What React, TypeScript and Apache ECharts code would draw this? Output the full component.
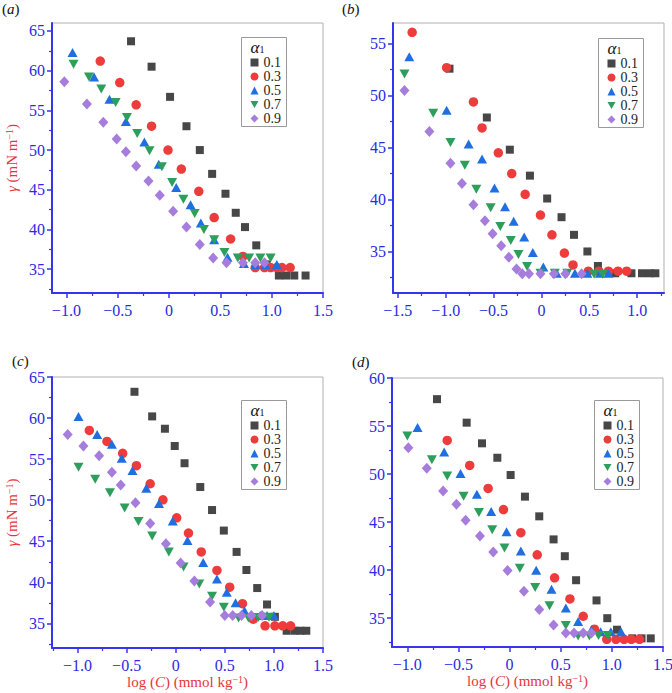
import React, { useEffect, useRef } from 'react';
import * as echarts from 'echarts';

type Pt = [number, number];

const SERIES_NAMES = ['0.1', '0.3', '0.5', '0.7', '0.9'];

// Panel (a)
const a01: Pt[] = [[-0.37, 63.7], [-0.17, 60.5], [0.01, 56.7], [0.17, 53.0], [0.30, 50.0], [0.42, 47.0], [0.55, 44.5], [0.65, 42.1], [0.74, 40.3], [0.85, 38.0], [0.95, 35.6], [1.07, 34.2], [1.14, 34.2], [1.22, 34.2], [1.33, 34.2]];
const a03: Pt[] = [[-0.67, 61.2], [-0.48, 58.5], [-0.32, 55.7], [-0.17, 53.0], [-0.01, 50.0], [0.12, 47.6], [0.29, 44.8], [0.44, 41.5], [0.60, 38.8], [0.72, 36.6], [0.84, 35.2], [0.93, 35.2], [0.99, 35.2], [1.05, 35.2], [1.10, 35.2], [1.18, 35.2]];
const a05: Pt[] = [[-0.94, 62.3], [-0.73, 59.2], [-0.58, 56.4], [-0.42, 53.6], [-0.24, 51.0], [-0.10, 48.2], [0.07, 45.3], [0.21, 43.1], [0.31, 40.8], [0.44, 38.7], [0.57, 36.5], [0.73, 35.7], [0.84, 35.6], [0.94, 35.6], [1.05, 35.6]];
const a07: Pt[] = [[-0.93, 60.8], [-0.78, 59.2], [-0.66, 57.7], [-0.52, 56.0], [-0.41, 54.1], [-0.31, 52.1], [-0.19, 49.9], [-0.07, 47.9], [0.03, 45.9], [0.14, 43.8], [0.25, 42.0], [0.34, 40.0], [0.44, 38.7], [0.54, 37.1], [0.67, 36.4], [0.78, 36.4], [0.89, 36.4], [0.99, 36.4]];
const a09: Pt[] = [[-1.02, 58.6], [-0.80, 55.8], [-0.64, 53.5], [-0.51, 51.4], [-0.42, 49.8], [-0.32, 48.0], [-0.20, 46.1], [-0.09, 44.3], [0.04, 42.3], [0.17, 40.3], [0.30, 38.1], [0.43, 36.4], [0.56, 35.8], [0.72, 35.8], [0.84, 35.8], [0.93, 35.8]];

// Panel (b)
const b01: Pt[] = [[-0.96, 52.6], [-0.57, 47.9], [-0.33, 44.8], [-0.12, 42.3], [0.06, 40.1], [0.21, 38.3], [0.34, 36.6], [0.48, 35.0], [0.59, 33.6], [0.77, 32.9], [0.94, 32.9], [1.05, 32.9], [1.13, 32.9], [1.19, 32.9]];
const b03: Pt[] = [[-1.35, 56.1], [-0.99, 52.7], [-0.71, 49.4], [-0.62, 46.9], [-0.45, 44.5], [-0.31, 42.5], [-0.17, 40.5], [-0.01, 38.5], [0.11, 36.6], [0.24, 34.85], [0.33, 33.7], [0.49, 33.1], [0.60, 33.1], [0.70, 33.1], [0.80, 33.1], [0.89, 33.1]];
const b05: Pt[] = [[-1.38, 53.75], [-0.99, 48.6], [-0.76, 45.35], [-0.62, 43.9], [-0.49, 41.1], [-0.38, 39.3], [-0.29, 37.9], [-0.18, 36.4], [-0.09, 34.9], [0.02, 33.5], [0.16, 32.9], [0.35, 32.9], [0.48, 32.9], [0.61, 32.9], [0.70, 32.9]];
const b07: Pt[] = [[-1.43, 52.1], [-1.13, 48.3], [-0.95, 45.5], [-0.80, 43.3], [-0.68, 41.0], [-0.53, 39.2], [-0.43, 37.4], [-0.32, 36.05], [-0.24, 34.7], [-0.15, 33.55], [-0.01, 32.9], [0.14, 32.9], [0.27, 32.9], [0.55, 32.8], [0.64, 32.8]];
const b09: Pt[] = [[-1.43, 50.5], [-1.17, 46.55], [-0.95, 43.5], [-0.83, 41.55], [-0.71, 39.5], [-0.59, 37.95], [-0.51, 36.7], [-0.42, 35.55], [-0.34, 34.45], [-0.26, 33.3], [-0.20, 32.85], [-0.13, 32.85], [-0.01, 32.85], [0.13, 32.85], [0.25, 32.85], [0.42, 32.85]];

// Panel (c)
const c01: Pt[] = [[-0.42, 63.2], [-0.24, 60.2], [-0.11, 58.7], [-0.01, 56.6], [0.09, 54.5], [0.25, 51.6], [0.37, 48.8], [0.49, 46.3], [0.62, 43.7], [0.72, 41.5], [0.83, 39.3], [0.93, 37.3], [1.01, 35.8], [1.13, 34.1], [1.21, 34.1], [1.27, 34.1], [1.33, 34.1]];
const c03: Pt[] = [[-0.88, 58.5], [-0.70, 57.15], [-0.54, 55.7], [-0.40, 54.2], [-0.26, 52.0], [-0.13, 50.05], [0.01, 47.85], [0.13, 46.0], [0.26, 43.7], [0.42, 41.45], [0.55, 39.4], [0.68, 37.4], [0.79, 35.5], [0.91, 34.7], [1.01, 34.7], [1.09, 34.7], [1.17, 34.7]];
const c05: Pt[] = [[-0.99, 60.2], [-0.80, 58.0], [-0.65, 56.8], [-0.55, 55.1], [-0.44, 53.6], [-0.30, 51.45], [-0.17, 49.6], [-0.03, 47.45], [0.12, 45.1], [0.28, 42.4], [0.42, 40.4], [0.52, 38.8], [0.61, 37.5], [0.70, 36.55], [0.86, 35.95], [0.93, 35.95], [1.00, 35.95]];
const c07: Pt[] = [[-0.99, 54.0], [-0.82, 52.55], [-0.67, 50.9], [-0.52, 49.05], [-0.38, 47.4], [-0.24, 45.65], [-0.07, 43.7], [0.08, 41.85], [0.24, 39.8], [0.37, 38.3], [0.49, 36.95], [0.64, 35.65], [0.74, 35.65], [0.84, 35.7], [0.95, 35.75]];
const c09: Pt[] = [[-1.10, 58.0], [-0.94, 56.6], [-0.78, 55.4], [-0.65, 53.4], [-0.56, 51.85], [-0.41, 49.7], [-0.26, 47.15], [-0.10, 44.7], [0.05, 42.35], [0.19, 40.15], [0.35, 37.6], [0.50, 35.95], [0.58, 35.95], [0.67, 35.95], [0.77, 35.95], [0.88, 35.95]];

// Panel (d)
const d01: Pt[] = [[-0.71, 57.8], [-0.42, 55.35], [-0.27, 53.2], [-0.12, 51.7], [0.01, 49.9], [0.15, 47.65], [0.29, 45.6], [0.43, 43.2], [0.54, 41.45], [0.65, 38.95], [0.85, 36.85], [0.955, 35.0], [1.05, 33.8], [1.20, 32.9], [1.29, 32.9], [1.38, 32.9]];
const d03: Pt[] = [[-0.61, 53.5], [-0.39, 50.9], [-0.21, 48.5], [-0.06, 46.3], [0.11, 43.9], [0.27, 41.6], [0.44, 39.2], [0.59, 37.0], [0.72, 35.2], [0.83, 33.85], [0.95, 32.8], [1.04, 32.8], [1.12, 32.8], [1.19, 32.8], [1.27, 32.8]];
const d05: Pt[] = [[-0.90, 54.85], [-0.64, 52.3], [-0.48, 50.05], [-0.32, 47.9], [-0.18, 46.1], [-0.03, 44.0], [0.11, 42.0], [0.26, 40.0], [0.41, 38.0], [0.55, 36.05], [0.67, 34.65], [0.80, 33.8], [0.89, 33.6], [0.99, 33.6], [1.09, 33.6]];
const d07: Pt[] = [[-1.0, 53.95], [-0.76, 51.5], [-0.61, 49.8], [-0.45, 47.7], [-0.30, 46.0], [-0.17, 44.2], [-0.05, 42.3], [0.10, 40.2], [0.25, 38.2], [0.39, 36.3], [0.55, 34.25], [0.67, 33.15], [0.78, 33.15], [0.87, 33.2], [0.96, 33.2]];
const d09: Pt[] = [[-0.99, 52.75], [-0.81, 50.6], [-0.65, 48.25], [-0.52, 46.85], [-0.43, 45.2], [-0.29, 43.55], [-0.16, 41.9], [-0.02, 39.95], [0.14, 37.8], [0.29, 35.9], [0.43, 34.3], [0.55, 33.45], [0.63, 33.45], [0.72, 33.45], [0.80, 33.45]];

// Tick labels
const X_TICKS_A = [-1.0, -0.5, 0, 0.5, 1.0, 1.5];
const X_TICKS_B = [-1.5, -1.0, -0.5, 0, 0.5, 1.0];
const X_TICKS_C = [-1.0, -0.5, 0, 0.5, 1.0, 1.5];
const X_TICKS_D = [-1.0, -0.5, 0, 0.5, 1.0, 1.5];
const Y_TICKS_A = [35, 40, 45, 50, 55, 60, 65];
const Y_TICKS_B = [35, 40, 45, 50, 55];
const Y_TICKS_C = [35, 40, 45, 50, 55, 60, 65];
const Y_TICKS_D = [35, 40, 45, 50, 55, 60];

const SERIF = '"Liberation Serif", "Times New Roman", serif';
const AX_BLUE = '#3535ee';
const LBL_BLUE = '#2a2ae6';
const RED_TXT = '#e8333b';
const COLORS = ['#474747', '#ee3b3b', '#1f6fe0', '#2e9e5c', '#a67ddc'];
const DOWN_TRI = 'path://M0,0L10,0L5,9Z';
const SYMBOLS = ['rect', 'circle', 'triangle', DOWN_TRI, 'diamond'];
const SIZES: any[] = [8, 9.5, [10, 9], [10, 9], [10, 11]];

interface Panel {
  label: string;
  grid: { left: number; top: number; width: number; height: number };
  x: [number, number];
  y: [number, number];
  xt: number[];
  yt: number[];
  data: Pt[][];
  box: [number, number];
  yName: boolean;
  xName: boolean;
}

const PANELS: Panel[] = [
  { label: 'a', grid: { left: 52, top: 23, width: 271, height: 270 }, x: [-1.14, 1.5], y: [32, 66], xt: X_TICKS_A, yt: Y_TICKS_A, data: [a01, a03, a05, a07, a09], box: [241.5, 37.5], yName: true, xName: false },
  { label: 'b', grid: { left: 393, top: 23, width: 271, height: 270 }, x: [-1.55, 1.28], y: [31, 57], xt: X_TICKS_B, yt: Y_TICKS_B, data: [b01, b03, b05, b07, b09], box: [598.5, 38.5], yName: false, xName: false },
  { label: 'c', grid: { left: 52, top: 377, width: 271, height: 271 }, x: [-1.26, 1.5], y: [32, 65], xt: X_TICKS_C, yt: Y_TICKS_C, data: [c01, c03, c05, c07, c09], box: [241.5, 400.5], yName: true, xName: true },
  { label: 'd', grid: { left: 392, top: 378, width: 271, height: 269 }, x: [-1.15, 1.5], y: [32, 60], xt: X_TICKS_D, yt: Y_TICKS_D, data: [d01, d03, d05, d07, d09], box: [594.5, 400.5], yName: false, xName: true },
];

const LABEL_POS: Record<string, [number, number]> = { a: [2, 9], b: [342, 9], c: [12, 361], d: [352, 362] };

function minorTicks(ticks: number[], min: number, max: number): number[] {
  const step = ticks[1] - ticks[0];
  const out: number[] = [];
  ticks.forEach((t) => {
    [t - step / 2, t + step / 2].forEach((v) => {
      const r = Math.round(v * 1000) / 1000;
      if (r > min && r < max && !out.includes(r)) out.push(r);
    });
  });
  return out;
}

const fmtX = (v: number) => {
  if (Math.abs(v) < 1e-9) return '0';
  return (v < 0 ? '\u2212' : '') + Math.abs(v).toFixed(1);
};

function buildOption() {
  const grid: any[] = [];
  const xAxis: any[] = [];
  const yAxis: any[] = [];
  const series: any[] = [];
  const legend: any[] = [];
  const graphic: any[] = [];

  PANELS.forEach((p, i) => {
    grid.push({ ...p.grid, show: true, borderColor: '#b0b0b0', borderWidth: 1, backgroundColor: 'transparent', containLabel: false, outerBoundsMode: 'none' });
    const nameRich = {
      i: { fontStyle: 'italic', fontFamily: SERIF, fontSize: 15, color: RED_TXT, lineHeight: 16 },
      s: { fontFamily: SERIF, fontSize: 10, color: RED_TXT, verticalAlign: 'top', lineHeight: 10 },
    };
    xAxis.push({
      type: 'value', gridIndex: i, min: p.x[0], max: p.x[1], position: 'bottom',
      axisLine: { show: true, onZero: false, lineStyle: { color: AX_BLUE, width: 2 } },
      axisTick: { show: true, customValues: p.xt, length: 5, inside: false, lineStyle: { color: AX_BLUE, width: 1.5 } },
      axisLabel: { show: true, customValues: p.xt, formatter: fmtX, color: LBL_BLUE, fontFamily: SERIF, fontSize: 16, margin: 9 },
      splitLine: { show: false },
      name: p.xName ? 'log ({i|C}) (mmol kg{s|\u22121})' : '',
      nameLocation: 'middle', nameGap: 26,
      nameTextStyle: { color: RED_TXT, fontFamily: SERIF, fontSize: 15, lineHeight: 16, rich: nameRich },
    });
    xAxis.push({
      type: 'value', gridIndex: i, min: p.x[0], max: p.x[1], position: 'bottom',
      axisLine: { show: false, onZero: false },
      axisTick: { show: true, customValues: minorTicks(p.xt, p.x[0], p.x[1]), length: 3, lineStyle: { color: AX_BLUE, width: 1.2 } },
      axisLabel: { show: false }, splitLine: { show: false },
    });
    yAxis.push({
      type: 'value', gridIndex: i, min: p.y[0], max: p.y[1], position: 'left',
      axisLine: { show: true, onZero: false, lineStyle: { color: AX_BLUE, width: 2 } },
      axisTick: { show: true, customValues: p.yt, length: 5, lineStyle: { color: AX_BLUE, width: 1.5 } },
      axisLabel: { show: true, customValues: p.yt, formatter: (v: number) => String(Math.round(v)), color: LBL_BLUE, fontFamily: SERIF, fontSize: 16, margin: 7 },
      splitLine: { show: false },
      name: p.yName ? '{i|\u03b3} (mN m{s|\u22121})' : '',
      nameLocation: 'middle', nameGap: 32, nameRotate: 90,
      nameTextStyle: { color: RED_TXT, fontFamily: SERIF, fontSize: 15, lineHeight: 16, rich: nameRich },
    });
    yAxis.push({
      type: 'value', gridIndex: i, min: p.y[0], max: p.y[1], position: 'left',
      axisLine: { show: false, onZero: false },
      axisTick: { show: true, customValues: minorTicks(p.yt, p.y[0], p.y[1]), length: 3, lineStyle: { color: AX_BLUE, width: 1.2 } },
      axisLabel: { show: false }, splitLine: { show: false },
    });

    p.data.forEach((d, k) => {
      series.push({
        type: 'scatter', name: SERIES_NAMES[k], xAxisIndex: 2 * i, yAxisIndex: 2 * i,
        data: d, symbol: SYMBOLS[k], symbolSize: SIZES[k],
        itemStyle: { color: COLORS[k], opacity: 1 }, z: 2 + k * 0.1,
      });
    });

    const [bx, by] = p.box;
    graphic.push({
      type: 'rect', z: 3, shape: { x: bx, y: by, width: 45, height: 89 },
      style: { fill: '#ffffff', stroke: '#9a9a9a', lineWidth: 1 },
    });
    graphic.push({
      type: 'text', z: 5, x: bx + 9, y: by + 10,
      style: {
        text: '{a|\u03b1}{s|1}', fill: '#111', fontFamily: SERIF, fontSize: 16, verticalAlign: 'middle', lineHeight: 13,
        rich: {
          a: { fontStyle: 'italic', fontFamily: SERIF, fontSize: 17, fill: '#111', lineHeight: 13 },
          s: { fontFamily: SERIF, fontSize: 10, fill: '#111', verticalAlign: 'bottom', lineHeight: 13 },
        },
      },
    });
    legend.push({
      left: bx + 9, top: by + 18, orient: 'vertical', padding: 0, itemGap: 0,
      itemWidth: 8, itemHeight: 8, selectedMode: false, z: 6,
      textStyle: { fontFamily: SERIF, fontSize: 14, color: '#222', padding: [0, 0, 0, 0] },
      data: SERIES_NAMES.map((n, k) => ({ name: n, icon: SYMBOLS[k] })),
    });

    const [lx, ly] = LABEL_POS[p.label];
    graphic.push({
      type: 'text', z: 5, x: lx, y: ly,
      style: {
        text: '({l|' + p.label + '})', fill: '#111', fontFamily: SERIF, fontSize: 15, verticalAlign: 'middle',
        rich: { l: { fontStyle: 'italic', fontFamily: SERIF, fontSize: 15, fill: '#111' } },
      },
    });
  });

  return { animation: false, backgroundColor: '#ffffff', grid, xAxis, yAxis, series, legend, graphic };
}

export default function App() {
  const ref = useRef<HTMLDivElement>(null);
  useEffect(() => {
    const chart = echarts.init(ref.current!, null, { renderer: 'svg' });
    chart.setOption(buildOption() as any);
    return () => chart.dispose();
  }, []);
  return (
    <div
      ref={ref}
      style={{ position: 'fixed', left: 0, top: 0, width: 672, height: 693, background: '#ffffff' }}
    />
  );
}
